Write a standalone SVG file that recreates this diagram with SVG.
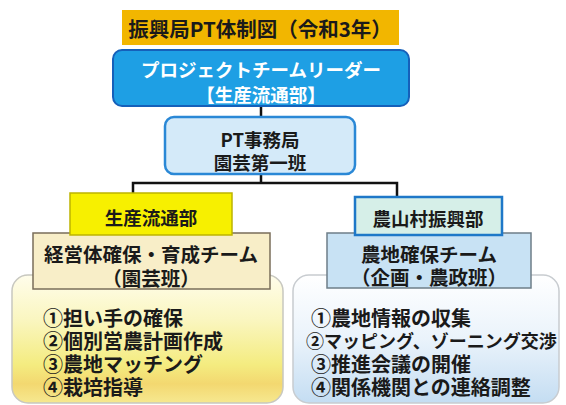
<svg xmlns="http://www.w3.org/2000/svg" width="566" height="405" viewBox="0 0 566 405">
<defs>
<linearGradient id="gy" x1="0" y1="0" x2="0" y2="1">
<stop offset="0" stop-color="#FFFDEB"/>
<stop offset="0.35" stop-color="#FAF6C0"/>
<stop offset="0.7" stop-color="#F4EC80"/>
<stop offset="0.85" stop-color="#F3D870"/>
<stop offset="1" stop-color="#F6E890"/>
</linearGradient>
<linearGradient id="gb" x1="0" y1="0" x2="0" y2="1">
<stop offset="0" stop-color="#FFFFFF"/>
<stop offset="0.5" stop-color="#EAF3FB"/>
<stop offset="1" stop-color="#C4DDF2"/>
</linearGradient>
<style>
text{font-family:"Noto Sans CJK JP","Noto Sans",sans-serif;font-weight:700;fill:#1a1a1a;}
.c{text-anchor:middle;dominant-baseline:central;}
.w{fill:#ffffff;}
.l{dominant-baseline:central;font-size:20px;}
.conn{stroke:#111;stroke-width:2.5;fill:none;}
</style>
</defs>
<g id="title">
<rect x="122" y="10" width="277" height="35" fill="#F2B600"/>
<text class="c" x="260" y="28" font-size="20.5">振興局PT体制図（令和3年）</text>
</g>
<g id="connectors">
<line class="conn" x1="261" y1="104" x2="261" y2="118"/>
<line class="conn" x1="261" y1="172" x2="261" y2="183"/>
<polyline class="conn" points="133,195 133,183 397,183 397,198"/>
</g>
<g id="leader">
<rect x="113" y="50" width="296" height="56" rx="9" fill="#1E9FE4" stroke="#1560BA" stroke-width="2"/>
<text class="c w" x="261" y="69" font-size="18.5">プロジェクトチームリーダー</text>
<text class="c w" x="261" y="94" font-size="18.5">【生産流通部】</text>
</g>
<g id="office">
<rect x="165" y="117" width="190" height="57" rx="9" fill="#D4EAF9" stroke="#2A88D6" stroke-width="2.5"/>
<text class="c" x="260" y="139" font-size="18.5">PT事務局</text>
<text class="c" x="260" y="162" font-size="18.5">園芸第一班</text>
</g>
<g id="left-list">
<rect x="12" y="275" width="271" height="128" rx="16" fill="url(#gy)" stroke="#C8C8C0" stroke-width="1.5"/>
<text class="l" x="43" y="317">①担い手の確保</text>
<text class="l" x="43" y="340">②個別営農計画作成</text>
<text class="l" x="43" y="363">③農地マッチング</text>
<text class="l" x="43" y="386">④栽培指導</text>
</g>
<g id="right-list">
<rect x="293" y="275" width="266" height="128" rx="16" fill="url(#gb)" stroke="#C8CCD0" stroke-width="1.5"/>
<text class="l" x="311" y="317">①農地情報の収集</text>
<text class="l" x="306" y="340" style="font-size:18px">②マッピング、ゾーニング交渉</text>
<text class="l" x="311" y="363">③推進会議の開催</text>
<text class="l" x="311" y="386">④関係機関との連絡調整</text>
</g>
<g id="left-team">
<rect x="33" y="233" width="237" height="56" fill="#F8EEC8" stroke="#7A6E5A" stroke-width="1.5"/>
<text class="c" x="151" y="253" font-size="19.5">経営体確保・育成チーム</text>
<text class="c" x="151" y="277" font-size="19.5">（園芸班）</text>
</g>
<g id="right-team">
<rect x="327" y="233" width="204" height="55" fill="#C8E2F4" stroke="#6E7E88" stroke-width="1.5"/>
<text class="c" x="429" y="253" font-size="19.5">農地確保チーム</text>
<text class="c" x="429" y="276" font-size="19.5">（企画・農政班）</text>
</g>
<g id="left-dept">
<rect x="70" y="193" width="162" height="42" fill="#F7F000" stroke="#BDB400" stroke-width="1.5"/>
<text class="c" x="151" y="217" font-size="18.5">生産流通部</text>
</g>
<g id="right-dept">
<rect x="355" y="197" width="147" height="38" fill="#D6EFE8" stroke="#1E78C8" stroke-width="2.5"/>
<text class="c" x="428" y="218" font-size="18.5">農山村振興部</text>
</g>
</svg>
